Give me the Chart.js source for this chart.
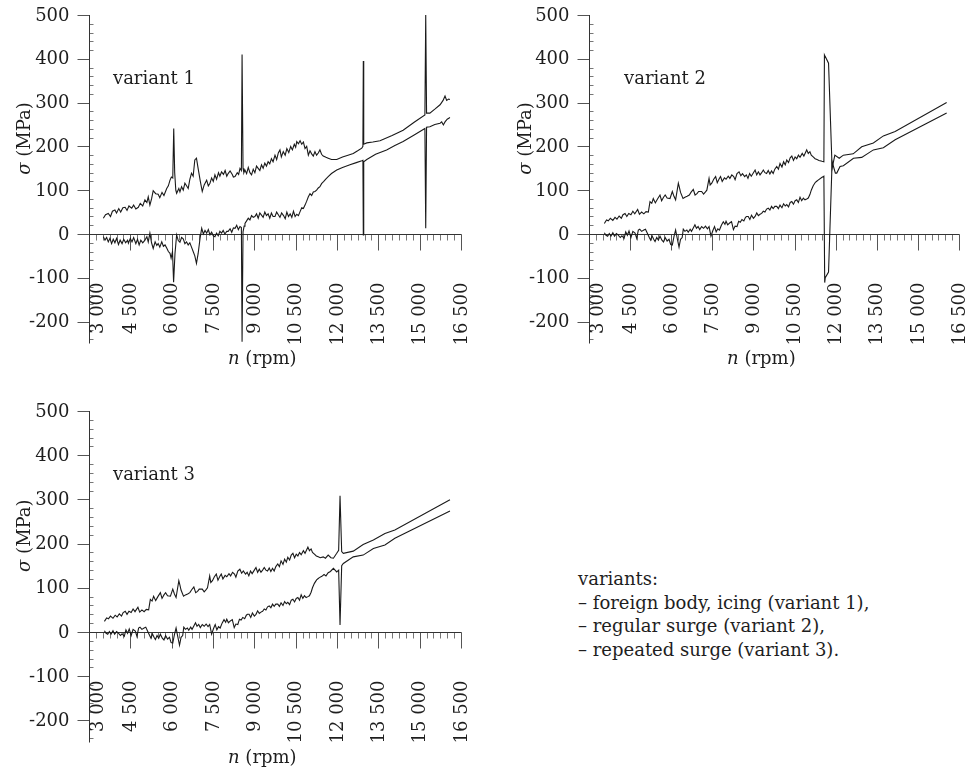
<!DOCTYPE html>
<html><head><meta charset="utf-8">
<script src="https://cdn.jsdelivr.net/npm/chart.js@4.4.1/dist/chart.umd.min.js"></script>
<style>
html,body{margin:0;padding:0;background:#fff;width:970px;height:774px;overflow:hidden;}
canvas{position:absolute;}
#legend{position:absolute;left:578px;top:567px;font-family:"DejaVu Serif",serif;font-size:18px;line-height:23.5px;color:#1e1e1e;white-space:nowrap;}
</style></head><body>
<canvas id="c1" width="485" height="380" style="left:0;top:0"></canvas>
<canvas id="c2" width="470" height="380" style="left:500px;top:0"></canvas>
<canvas id="c3" width="485" height="384" style="left:0;top:390px"></canvas>
<div id="legend">variants:<br>– foreign body, icing (variant 1),<br>– regular surge (variant 2),<br>– repeated surge (variant 3).</div>
<script>
// ---- axis ticks / labels ----
const xTickValues = [3000, 4500, 6000, 7500, 9000, 10500, 12000, 13500, 15000, 16500];
const xTickLabels = ['3 000', '4 500', '6 000', '7 500', '9 000', '10 500', '12 000', '13 500', '15 000', '16 500'];
const yTickValues = [500, 400, 300, 200, 100, 0, -100, -200];
const yTickLabels = ['500', '400', '300', '200', '100', '0', '-100', '-200'];
const panelLabels = ['variant 1', 'variant 2', 'variant 3'];
const xTitle = ['n', ' (rpm)'];
const yTitle = ['σ', ' (MPa)'];

// ---- variant 1 (foreign body, icing): [rpm, MPa] ----
const v1Upper = [
[3520,36],[3600,44],[3700,47],[3780,40],[3850,52],[3940,55],[4000,48],[4080,58],[4150,50],[4230,60],
[4310,61],[4380,54],[4450,64],[4550,59],[4620,66],[4700,57],[4790,61],[4860,70],[4950,64],[5030,78],
[5100,72],[5150,85],[5210,66],[5270,80],[5330,99],[5420,92],[5510,91],[5570,83],[5650,95],[5720,88],
[5820,104],[5880,110],[5940,123],[5990,130],[6040,128],[6075,241],[6110,140],[6150,100],[6180,93],[6260,104],
[6300,96],[6360,108],[6420,100],[6480,116],[6540,110],[6600,104],[6660,125],[6720,139],[6780,132],[6840,169],
[6900,173],[6960,150],[7040,120],[7110,97],[7180,112],[7270,123],[7330,110],[7390,116],[7450,128],[7510,120],
[7570,135],[7630,125],[7700,140],[7750,132],[7810,142],[7880,136],[7940,145],[8000,132],[8050,138],[8120,144],
[8200,136],[8240,130],[8300,131],[8380,140],[8430,136],[8480,150],[8530,145],[8555,410],[8590,150],[8620,140],
[8660,146],[8720,138],[8780,152],[8840,140],[8900,135],[8960,148],[9020,140],[9080,155],[9140,150],[9200,145],
[9260,158],[9320,150],[9380,162],[9440,155],[9500,165],[9560,160],[9620,172],[9680,165],[9750,180],[9810,170],
[9870,185],[9930,192],[9980,176],[10050,188],[10120,180],[10180,195],[10250,186],[10320,200],[10380,192],[10450,205],
[10500,198],[10540,211],[10600,206],[10660,213],[10720,205],[10780,210],[10840,195],[10900,200],[10960,180],[11020,190],
[11080,183],[11140,178],[11200,188],[11260,180],[11320,185],[11380,192],[11440,182],[11500,178],[11600,175],[11680,173],
[11800,170],[11990,170],[12200,176],[12400,180],[12590,184],[12750,190],[12900,196],[12940,200],[12955,395],[12970,205],
[13080,208],[13300,210],[13560,213],[14000,225],[14400,237],[14800,255],[15190,272],[15220,500],[15250,276],[15370,276],
[15550,285],[15740,295],[15850,305],[15920,315],[15980,305],[16050,308],[16100,307]
];
const v1Lower = [
[3520,-6],[3580,-14],[3640,-8],[3700,-18],[3760,-10],[3820,-22],[3880,-12],[3940,-20],[4000,-10],[4070,-24],
[4130,-14],[4200,-22],[4260,-12],[4330,-20],[4400,-14],[4430,-21],[4500,-10],[4560,-18],[4620,-8],[4700,-22],
[4760,-12],[4820,-25],[4880,-14],[4950,-20],[5030,-14],[5100,-6],[5150,-18],[5210,2],[5270,-20],[5330,-33],
[5400,-18],[5460,-26],[5510,-22],[5570,-30],[5640,-18],[5700,-28],[5760,-25],[5820,-32],[5880,-40],[5940,-44],
[5980,-55],[6030,-40],[6070,-110],[6120,-45],[6180,-2],[6240,-15],[6300,-19],[6360,-8],[6420,-11],[6480,-22],
[6540,-18],[6600,-25],[6660,-20],[6720,-30],[6780,-40],[6840,-50],[6900,-67],[6960,-45],[7030,-10],[7090,13],
[7150,0],[7210,8],[7270,2],[7330,10],[7390,-2],[7450,4],[7510,-4],[7570,-6],[7630,2],[7690,-4],
[7750,6],[7810,2],[7870,8],[7930,0],[8000,6],[8050,6],[8120,12],[8180,4],[8240,14],[8300,13],
[8360,20],[8420,10],[8480,17],[8530,15],[8555,-246],[8590,5],[8630,18],[8660,24],[8720,30],[8780,36],
[8840,32],[8900,42],[8960,38],[9020,40],[9080,46],[9140,36],[9200,48],[9260,43],[9320,38],[9380,50],
[9440,42],[9500,46],[9560,36],[9620,48],[9680,40],[9750,40],[9810,50],[9870,44],[9930,38],[9990,48],
[10060,42],[10120,35],[10180,50],[10240,40],[10300,46],[10360,38],[10420,52],[10480,40],[10540,45],[10600,42],
[10660,51],[10720,60],[10780,58],[10840,66],[10900,75],[10960,85],[11020,92],[11080,88],[11140,96],[11200,97],
[11260,100],[11320,105],[11380,108],[11440,115],[11520,120],[11600,126],[11680,131],[11800,138],[11990,146],[12200,152],
[12470,158],[12700,163],[12900,167],[12940,168],[12955,-2],[12970,165],[13080,170],[13400,182],[13800,192],[14100,202],
[14400,211],[14800,226],[15190,241],[15220,13],[15250,244],[15370,245],[15550,250],[15740,253],[15800,256],[15860,249],
[15920,256],[16000,262],[16100,266]
];

// ---- variants 2 and 3 share the same run-up before the surge ----
const surgeUpperBase = [
[3560,24],[3640,32],[3705,30],[3780,36],[3870,31],[3950,38],[4020,34],[4100,41],[4180,36],[4240,44],
[4315,47],[4380,40],[4450,47],[4530,44],[4600,52],[4670,46],[4775,56],[4840,45],[4920,50],[5000,46],
[5080,51],[5165,50],[5226,74],[5290,70],[5345,81],[5420,71],[5500,80],[5590,89],[5650,76],[5720,84],
[5780,89],[5850,82],[5955,81],[6040,97],[6100,86],[6160,78],[6260,116],[6300,106],[6340,95],[6430,81],
[6500,84],[6580,86],[6660,89],[6720,95],[6805,102],[6870,89],[6940,92],[7000,97],[7110,97],[7180,91],
[7250,96],[7300,100],[7380,127],[7420,112],[7480,116],[7550,125],[7620,131],[7680,117],[7750,126],[7800,131],
[7860,120],[7940,128],[8000,125],[8080,132],[8140,127],[8210,135],[8280,131],[8330,124],[8400,138],[8475,142],
[8540,133],[8600,138],[8680,131],[8740,135],[8800,127],[8860,138],[8920,132],[9000,140],[9060,146],[9120,135],
[9180,142],[9240,135],[9300,140],[9360,146],[9420,140],[9480,138],[9540,145],[9600,137],[9660,144],[9720,138],
[9780,148],[9850,154],[9910,148],[9970,161],[10040,153],[10100,165],[10160,158],[10215,169],[10280,163],[10340,174],
[10400,178],[10460,168],[10520,176],[10580,172],[10640,180],[10700,175],[10780,184],[10840,178],[10900,186],[10944,192],
[11000,184],[11060,188],[11110,180],[11180,176],[11250,172],[11320,170],[11390,168]
];
const surgeLowerBase = [
[3560,3],[3620,-3],[3680,-5],[3740,1],[3800,-5],[3870,3],[3930,-5],[4000,1],[4060,-2],[4140,-8],
[4200,-4],[4280,-10],[4340,5],[4400,-3],[4460,7],[4530,-8],[4600,6],[4680,2],[4740,-10],[4800,9],
[4850,11],[4920,6],[5000,9],[5060,11],[5120,3],[5200,-8],[5250,-14],[5300,-4],[5360,-12],[5410,-17],
[5470,-8],[5530,-14],[5590,-5],[5660,-14],[5720,-18],[5780,-8],[5850,-16],[5920,-12],[5980,-24],[6040,-25],
[6100,-6],[6160,9],[6220,-10],[6285,-30],[6340,-12],[6400,-8],[6440,11],[6500,6],[6570,9],[6620,4],
[6690,11],[6740,6],[6800,13],[6865,21],[6920,13],[6980,17],[7040,10],[7110,17],[7180,13],[7250,18],
[7320,12],[7380,17],[7450,-5],[7520,8],[7580,17],[7640,5],[7700,12],[7760,9],[7830,20],[7900,28],
[7960,22],[8000,29],[8060,21],[8130,25],[8200,28],[8270,10],[8330,18],[8400,17],[8460,29],[8520,27],
[8580,33],[8650,30],[8710,38],[8750,40],[8810,40],[8870,33],[8930,43],[9000,36],[9060,40],[9120,48],
[9180,42],[9240,45],[9300,47],[9360,52],[9420,50],[9480,57],[9540,59],[9600,55],[9660,63],[9720,58],
[9780,63],[9850,63],[9910,58],[9970,66],[10040,60],[10100,69],[10160,64],[10215,67],[10280,62],[10340,72],
[10400,74],[10460,68],[10520,76],[10580,78],[10640,72],[10700,84],[10760,76],[10820,82],[10880,78],[10944,80],
[11000,82],[11060,90],[11110,100],[11180,110],[11260,118],[11320,121],[11360,123]
];
// ---- variant 2 (regular surge) tails ----
const v2UpperTail = [
[11500,166],[11570,165],[11590,409],[11620,405],[11740,390],[11870,150],[11970,180],[12130,173],[12280,180],[12640,183],
[12950,199],[13375,208],[13740,224],[14170,234],[16050,300]
];
const v2LowerTail = [
[11490,129],[11570,132],[11600,-111],[11620,-100],[11740,-87],[11870,165],[11990,139],[12040,139],[12160,154],[12280,156],
[12650,173],[12950,175],[13375,192],[13740,197],[14170,215],[16050,276]
];
// ---- variant 3 (repeated surge) tails ----
const v3UpperTail = [
[11500,170],[11580,167],[11680,174],[11780,168],[11870,167],[11990,178],[12060,185],[12110,308],[12170,182],[12230,178],
[12590,183],[12950,198],[13320,208],[13740,223],[14100,231],[16100,299]
];
const v3LowerTail = [
[11450,126],[11530,130],[11600,127],[11680,134],[11760,137],[11870,144],[11990,136],[12060,140],[12110,16],[12170,150],
[12230,155],[12590,170],[12950,174],[13320,189],[13740,197],[14100,212],[16100,274]
];

const X_MIN = 3000, X_MAX = 16500, Y_MIN = -250, Y_MAX = 500;
const X_MINOR = 250, Y_MINOR = 20;
const FONT = '"DejaVu Serif", "Liberation Serif", serif';
const TXT = '#1e1e1e';

function crisp(v) { return Math.round(v) + 0.5; }
function seg(ctx, a, b, c, d) { ctx.beginPath(); ctx.moveTo(a, b); ctx.lineTo(c, d); ctx.stroke(); }
function mixedWidth(ctx, parts) {
  let w = 0;
  parts.forEach((p, i) => { ctx.font = (i === 0 ? 'italic ' : '') + '18px ' + FONT; w += ctx.measureText(p).width; });
  return w;
}
function drawMixed(ctx, parts, start) {
  let x = start;
  parts.forEach((p, i) => {
    ctx.font = (i === 0 ? 'italic ' : '') + '18px ' + FONT;
    ctx.fillText(p, x, 0);
    x += ctx.measureText(p).width;
  });
}

const panelPlugin = {
  id: 'panel',
  beforeDatasetsDraw(chart, args, o) {
    const ctx = chart.ctx, xs = chart.scales.x, ys = chart.scales.y;
    const ax = crisp(xs.getPixelForValue(X_MIN));
    const xr = xs.getPixelForValue(X_MAX);
    const y0 = crisp(ys.getPixelForValue(0));
    const yt = ys.getPixelForValue(Y_MAX), yb = ys.getPixelForValue(Y_MIN);
    ctx.save();
    ctx.lineWidth = 1;
    // minor ticks
    ctx.strokeStyle = '#777';
    for (let v = Y_MIN + 10; v <= Y_MAX; v += Y_MINOR) {
      if (v % 100 !== 0) { const py = crisp(ys.getPixelForValue(v)); seg(ctx, ax, py, ax + 4, py); }
    }
    for (let r = X_MIN + X_MINOR; r <= X_MAX; r += X_MINOR) {
      if ((r - X_MIN) % 1500 !== 0) { const px = crisp(xs.getPixelForValue(r)); seg(ctx, px, y0, px, y0 + 6); }
    }
    // major ticks
    ctx.strokeStyle = '#555';
    yTickValues.forEach(v => { const py = crisp(ys.getPixelForValue(v)); seg(ctx, ax - 12, py, ax, py); });
    xTickValues.forEach(r => { const px = crisp(xs.getPixelForValue(r)); seg(ctx, px, y0, px, y0 + 16); });
    // axis lines
    ctx.strokeStyle = '#333';
    seg(ctx, ax, yt, ax, yb);
    seg(ctx, ax, y0, crisp(xr), y0);
    // y tick labels
    ctx.fillStyle = TXT;
    ctx.font = '18px ' + FONT;
    ctx.textAlign = 'right'; ctx.textBaseline = 'middle';
    yTickValues.forEach((v, i) => ctx.fillText(yTickLabels[i], ax - 20, ys.getPixelForValue(v) + 1));
    // x tick labels (rotated)
    xTickValues.forEach((r, i) => {
      ctx.save();
      ctx.translate(xs.getPixelForValue(r) + (i === 0 ? 9 : 1), y0 + 48);
      ctx.rotate(-Math.PI / 2);
      ctx.textAlign = 'right'; ctx.textBaseline = 'middle';
      ctx.fillText(xTickLabels[i], 0, 0);
      ctx.restore();
    });
    // panel label
    ctx.textAlign = 'left'; ctx.textBaseline = 'alphabetic';
    ctx.fillText(o.label, xs.getPixelForValue(o.labelRpm), ys.getPixelForValue(343));
    // x title
    ctx.save();
    const wx = mixedWidth(ctx, xTitle);
    ctx.translate(xs.getPixelForValue(9290), yb + 20);
    ctx.textAlign = 'left'; ctx.textBaseline = 'alphabetic';
    drawMixed(ctx, xTitle, -wx / 2);
    ctx.restore();
    // y title
    ctx.save();
    const wy = mixedWidth(ctx, yTitle);
    ctx.translate(o.yTitleX, ys.getPixelForValue(218));
    ctx.rotate(-Math.PI / 2);
    ctx.textAlign = 'left'; ctx.textBaseline = 'middle';
    drawMixed(ctx, yTitle, -wy / 2);
    ctx.restore();
    ctx.restore();
  }
};

function pts(list) { return list.map(p => ({ x: p[0], y: p[1] })); }

function makeChart(id, pad, upper, lower, label, labelRpm, yTitleX) {
  return new Chart(document.getElementById(id), {
    type: 'line',
    data: {
      datasets: [
        { data: pts(upper), borderColor: '#1a1a1a', borderWidth: 1.1, pointRadius: 0, fill: false, tension: 0 },
        { data: pts(lower), borderColor: '#1a1a1a', borderWidth: 1.1, pointRadius: 0, fill: false, tension: 0 }
      ]
    },
    options: {
      responsive: false, animation: false, events: [],
      layout: { padding: pad },
      scales: {
        x: { type: 'linear', min: X_MIN, max: X_MAX, display: false },
        y: { type: 'linear', min: Y_MIN, max: Y_MAX, display: false }
      },
      plugins: { legend: { display: false }, tooltip: { enabled: false },
        panel: { label: label, labelRpm: labelRpm, yTitleX: yTitleX } }
    },
    plugins: [panelPlugin]
  });
}

makeChart('c1', { left: 89, right: 24, top: 15, bottom: 36.5 }, v1Upper, v1Lower, panelLabels[0], 3870, 25);
makeChart('c2', { left: 89, right: 11, top: 15, bottom: 36.5 },
  surgeUpperBase.concat(v2UpperTail), surgeLowerBase.concat(v2LowerTail), panelLabels[1], 4277, 26);
makeChart('c3', { left: 89, right: 24, top: 21, bottom: 31.5 },
  surgeUpperBase.concat(v3UpperTail), surgeLowerBase.concat(v3LowerTail), panelLabels[2], 3870, 25);
</script>
</body></html>
